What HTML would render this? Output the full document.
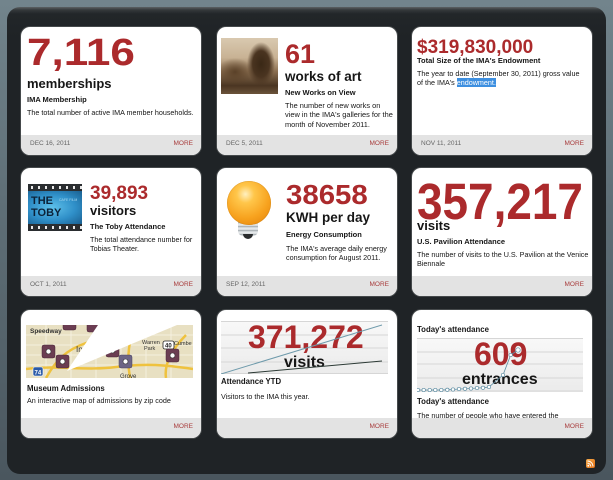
<!DOCTYPE html>
<html><head><meta charset="utf-8">
<style>
*{margin:0;padding:0;box-sizing:border-box}
html,body{width:613px;height:480px;overflow:hidden}
body{background:linear-gradient(to bottom,#72848c 0,#5f6f77 200px,#4a565e 480px);font-family:"Liberation Sans",Arial,sans-serif;position:relative}
.panel{position:absolute;left:7px;top:7px;width:599px;height:467px;border-radius:13px;background:linear-gradient(to bottom,#5c6163 0,#34383a 3px,#222629 7px,#1f2326 30px,#1f2326 100%);}
.card{position:absolute;width:180px;height:128px;background:#fff;border-radius:9px;overflow:hidden;box-shadow:0 0 0 1px #45494b;}
.ft{position:absolute;left:0;right:0;bottom:0;height:20px;background:#e3e3e3;z-index:5}
.dt{position:absolute;left:9px;top:6px;font-size:6.5px;color:#666;line-height:1;white-space:nowrap}
.mo{position:absolute;right:8px;top:6px;font-size:6.5px;color:#a83c3c;line-height:1}
.t{position:absolute;line-height:1;white-space:nowrap;color:#161616}
.n{font-weight:bold;color:#ab2a2c}
.u{font-weight:bold}
.h{font-weight:bold;font-size:7.5px}
.h2{font-weight:bold;font-size:7.8px}
.d{font-size:7.2px;line-height:9.3px}
.sel{background:#3d8fe0;color:#fff}
</style></head><body>
<div class="panel"></div>

<!-- Card 1 -->
<div class="card" style="left:21px;top:27px">
  <div class="t n" style="left:6px;top:7px;font-size:38px;transform:scaleX(1.16);transform-origin:0 0">7,116</div>
  <div class="t u" style="left:6px;top:50px;font-size:13px">memberships</div>
  <div class="t h" style="left:6px;top:69px">IMA Membership</div>
  <div class="t d" style="left:6px;top:81px">The total number of active IMA member households.</div>
  <div class="ft"><span class="dt">DEC 16, 2011</span><span class="mo">MORE</span></div>
</div>

<!-- Card 2 -->
<div class="card" style="left:217px;top:27px">
  <div style="position:absolute;left:4px;top:11px;width:57px;height:56px;background:
    radial-gradient(ellipse 14px 22px at 40px 26px,#3a2816 0,#4a3420 60%,rgba(74,52,32,0) 100%),
    radial-gradient(ellipse 18px 14px at 14px 34px,#5a4128 0,rgba(90,65,40,0) 100%),
    linear-gradient(to bottom,#d9c9b0 0,#c8b294 35%,#8a6e50 60%,#4a3522 85%,#6b533a 100%)"></div>
  <div class="t n" style="left:68px;top:13.5px;font-size:27px">61</div>
  <div class="t u" style="left:68px;top:43px;font-size:13.5px">works of art</div>
  <div class="t h" style="left:68px;top:61.5px">New Works on View</div>
  <div class="t d" style="left:68px;top:74px;font-size:7.4px">The number of new works on<br>view in the IMA's galleries for the<br>month of November 2011.</div>
  <div class="ft"><span class="dt">DEC 5, 2011</span><span class="mo">MORE</span></div>
</div>

<!-- Card 3 -->
<div class="card" style="left:412px;top:27px">
  <div class="t n" style="left:5px;top:10.5px;font-size:19px">$319,830,000</div>
  <div class="t h" style="left:5px;top:30px">Total Size of the IMA's Endowment</div>
  <div class="t d" style="left:5px;top:42px">The year to date (September 30, 2011) gross value<br>of the IMA's <span class="sel">endowment.</span></div>
  <div class="ft"><span class="dt">NOV 11, 2011</span><span class="mo">MORE</span></div>
</div>

<!-- Card 4 -->
<div class="card" style="left:21px;top:168px">
  <div style="position:absolute;left:7px;top:16px;width:54px;height:47px;background:#2a2d30">
    <div style="position:absolute;left:0;top:2px;width:54px;height:3px;background:repeating-linear-gradient(to right,#2a2d30 0,#2a2d30 3px,#e8e8e8 3px,#e8e8e8 5px,#2a2d30 5px,#2a2d30 7px)"></div>
    <div style="position:absolute;left:0;top:42px;width:54px;height:3px;background:repeating-linear-gradient(to right,#2a2d30 0,#2a2d30 3px,#e8e8e8 3px,#e8e8e8 5px,#2a2d30 5px,#2a2d30 7px)"></div>
    <div style="position:absolute;left:0;top:7px;width:54px;height:33px;background:radial-gradient(ellipse at 45% 50%,#5ec0ea 0,#2f8fc8 55%,#1a5f90 100%)">
      <div class="t" style="left:3px;top:5px;font-size:11px;font-weight:bold;color:#0c2238">THE</div>
      <div class="t" style="left:3px;top:17px;font-size:11px;font-weight:bold;color:#0c2238">TOBY</div>
      <div class="t" style="left:31px;top:8px;font-size:3.5px;color:#a8d8f0">CAFE FILM</div>
    </div>
  </div>
  <div class="t n" style="left:69px;top:15.5px;font-size:19px">39,893</div>
  <div class="t u" style="left:69px;top:36px;font-size:13px">visitors</div>
  <div class="t h" style="left:69px;top:55px">The Toby Attendance</div>
  <div class="t d" style="left:69px;top:67px">The total attendance number for<br>Tobias Theater.</div>
  <div class="ft"><span class="dt">OCT 1, 2011</span><span class="mo">MORE</span></div>
</div>

<!-- Card 5 -->
<div class="card" style="left:217px;top:168px">
  <div style="position:absolute;left:21px;top:51px;width:20px;height:17px;border-radius:2px 2px 5px 5px;background:repeating-linear-gradient(to bottom,#c9ced2 0,#eef0f2 2px,#9aa2a8 4px);"></div>
  <div style="position:absolute;left:26px;top:66px;width:10px;height:5px;border-radius:0 0 5px 5px;background:#2a2c2e"></div>
  <div style="position:absolute;left:10px;top:13px;width:44px;height:44px;border-radius:50%;background:radial-gradient(circle at 42% 30%,#fff0c0 0,#ffc64a 22%,#f7a21e 60%,#e07f08 100%);box-shadow:inset 0 0 1px #b06a00"></div>
  <div class="t n" style="left:69px;top:13.4px;font-size:28px;transform:scaleX(1.05);transform-origin:0 0">38658</div>
  <div class="t u" style="left:69px;top:43px;font-size:13.5px">KWH per day</div>
  <div class="t h" style="left:69px;top:63px">Energy Consumption</div>
  <div class="t d" style="left:69px;top:76px">The IMA's average daily energy<br>consumption for August 2011.</div>
  <div class="ft"><span class="dt">SEP 12, 2011</span><span class="mo">MORE</span></div>
</div>

<!-- Card 6 -->
<div class="card" style="left:412px;top:168px">
  <div class="t n" style="left:5px;top:8px;font-size:51px;transform:scaleX(0.9);transform-origin:0 0">357,217</div>
  <div class="t u" style="left:5px;top:51px;font-size:13px;z-index:2">visits</div>
  <div class="t h" style="left:5px;top:69.5px">U.S. Pavilion Attendance</div>
  <div class="t d" style="left:5px;top:81.5px">The number of visits to the U.S. Pavilion at the Venice<br>Biennale</div>
  <div class="ft"><span class="mo">MORE</span></div>
</div>

<!-- Card 7 -->
<div class="card" style="left:21px;top:310px">
  <svg style="position:absolute;left:5px;top:15px" width="167" height="53" viewBox="0 0 167 53">
    <rect width="167" height="53" fill="#e8e0c2"/>
    <g stroke="#f7f3e6" stroke-width="0.8">
      <path d="M0 10H167M0 20H167M0 30H167M0 40H167M20 0V53M45 0V53M70 0V53M95 0V53M120 0V53M145 0V53"/>
    </g>
    <g stroke="#efc23e" stroke-width="2.5" fill="none">
      <path d="M0 44 C30 40 60 46 90 42 S140 40 167 44"/>
      <path d="M108 0 C104 15 100 30 104 53"/>
      <path d="M20 53 C30 35 40 25 60 18 S100 12 130 4"/>
      <path d="M140 53 C138 40 145 25 160 10"/>
    </g>
    <text x="4" y="8" font-family="Liberation Sans, sans-serif" font-size="6.5" font-weight="bold" fill="#333">Speedway</text>
    <text x="50" y="27" font-family="Liberation Sans, sans-serif" font-size="8" fill="#333">Ind</text>
    <text x="116" y="19" font-family="Liberation Sans, sans-serif" font-size="5.5" fill="#333">Warren</text>
    <text x="118" y="25" font-family="Liberation Sans, sans-serif" font-size="5.5" fill="#333">Park</text>
    <text x="148" y="20" font-family="Liberation Sans, sans-serif" font-size="5.5" fill="#333">Cumbe</text>
    <text x="94" y="53" font-family="Liberation Sans, sans-serif" font-size="6" fill="#333">Grove</text>
    <rect x="7" y="42" width="10" height="9" rx="2" fill="#2a5aa8" stroke="#fff" stroke-width="0.6"/>
    <text x="8.5" y="49.5" font-family="Liberation Sans, sans-serif" font-size="6" font-weight="bold" fill="#fff">74</text>
    <rect x="137" y="16" width="11" height="8" rx="2" fill="#fff" stroke="#222" stroke-width="0.8"/>
    <text x="139" y="22.5" font-family="Liberation Sans, sans-serif" font-size="6" font-weight="bold" fill="#222">40</text>
    <g fill="#6b3d52" stroke="#4a2636" stroke-width="0.5">
      <rect x="16" y="20" width="13" height="13" rx="2"/>
      <rect x="30" y="30" width="13" height="13" rx="2"/>
      <rect x="80" y="19" width="13" height="13" rx="2"/>
      <rect x="140" y="24" width="13" height="13" rx="2"/>
      <rect x="116" y="-3" width="13" height="10" rx="2"/>
      <rect x="61" y="-3" width="13" height="10" rx="2"/>
      <rect x="37" y="-3" width="13" height="8" rx="2"/>
    </g>
    <rect x="93" y="30" width="13" height="13" rx="2" fill="#6d6585" stroke="#4a4460" stroke-width="0.5"/>
    <g fill="#fff" stroke="#333" stroke-width="0.6">
      <circle cx="22.5" cy="26.5" r="2.5"/><circle cx="36.5" cy="36.5" r="2.5"/>
      <circle cx="86.5" cy="25.5" r="2.5"/><circle cx="146.5" cy="30.5" r="2.5"/>
      <circle cx="99.5" cy="36.5" r="2.5"/>
    </g>
    <polygon points="72,0 151,0 41,46" fill="#fff"/>
  </svg>
  <div class="t h2" style="left:6px;top:75px">Museum Admissions</div>
  <div class="t d" style="left:6px;top:86.2px">An interactive map of admissions by zip code</div>
  <div class="ft"><span class="mo">MORE</span></div>
</div>

<!-- Card 8 -->
<div class="card" style="left:217px;top:310px">
  <svg style="position:absolute;left:4px;top:11px" width="167" height="53" viewBox="0 0 167 53">
    <defs><linearGradient id="g1" x1="0" y1="0" x2="0" y2="1"><stop offset="0" stop-color="#f8f8f8"/><stop offset="1" stop-color="#ebebeb"/></linearGradient></defs>
    <rect width="167" height="53" fill="url(#g1)"/>
    <g stroke="#d6d6d6" stroke-width="1"><path d="M0 0.5H167M0 14H167M0 27H167M0 41H167M0 52.5H167"/></g>
  </svg>
  <div class="t n" style="left:31px;top:10.8px;font-size:32px">371,272</div>
  <div class="t u" style="left:67px;top:44.8px;font-size:16px">visits</div>
  <svg style="position:absolute;left:4px;top:11px" width="167" height="53" viewBox="0 0 167 53">
    <path d="M0 53 L161 4" stroke="#6e9aab" stroke-width="1" fill="none"/>
    <path d="M27 52 L161 40" stroke="#2c3a35" stroke-width="1" fill="none"/>
  </svg>
  <div class="t h2" style="left:4px;top:68.4px">Attendance YTD</div>
  <div class="t d" style="left:4px;top:82px">Visitors to the IMA this year.</div>
  <div class="ft"><span class="mo">MORE</span></div>
</div>

<!-- Card 9 -->
<div class="card" style="left:412px;top:310px">
  <div class="t h2" style="left:5px;top:15.7px">Today's attendance</div>
  <svg style="position:absolute;left:5px;top:28px" width="166" height="54" viewBox="0 0 166 54">
    <defs><linearGradient id="g2" x1="0" y1="0" x2="0" y2="1"><stop offset="0" stop-color="#f8f8f8"/><stop offset="1" stop-color="#ebebeb"/></linearGradient></defs>
    <rect width="166" height="54" fill="url(#g2)"/>
    <g stroke="#d6d6d6" stroke-width="1"><path d="M0 0.5H166M0 14H166M0 26H166M0 40H166M0 53H166"/></g>
  </svg>
  <div class="t n" style="left:62px;top:27.8px;font-size:32px">609</div>
  <div class="t u" style="left:50px;top:61.5px;font-size:16px">entrances</div>
  <svg style="position:absolute;left:5px;top:28px" width="166" height="54" viewBox="0 0 166 54">
    <polyline points="1,52 6.7,52 12.7,52 18.3,52 24.3,52 30.3,51.8 36,51.5 42,51 48,50.8 54,50.5 60,50 66,49.8 72,49 86,37 93.7,17 101,12" stroke="#5f8ea3" stroke-width="0.8" fill="none"/>
    <g fill="#fff" stroke="#5f8ea3" stroke-width="0.7">
      <circle cx="1" cy="52" r="1.7"/><circle cx="6.7" cy="52" r="1.7"/><circle cx="12.7" cy="52" r="1.7"/>
      <circle cx="18.3" cy="52" r="1.7"/><circle cx="24.3" cy="52" r="1.7"/><circle cx="30.3" cy="51.8" r="1.7"/>
      <circle cx="36" cy="51.5" r="1.7"/><circle cx="42" cy="51" r="1.7"/><circle cx="48" cy="50.8" r="1.7"/>
      <circle cx="54" cy="50.5" r="1.7"/><circle cx="60" cy="50" r="1.7"/><circle cx="66" cy="49.8" r="1.7"/>
      <circle cx="72" cy="49" r="1.7"/><circle cx="86" cy="37" r="1.7"/><circle cx="93.7" cy="17" r="1.7"/>
      <circle cx="101" cy="12" r="2.2"/>
    </g>
  </svg>
  <div class="t h2" style="left:5px;top:88.4px">Today's attendance</div>
  <div class="t d" style="left:5px;top:101px">The number of people who have entered the</div>
  <div class="ft"><span class="mo">MORE</span></div>
</div>

<div style="position:absolute;left:586px;top:459px;width:9px;height:9px;border-radius:2px;background:linear-gradient(135deg,#f8b050,#e06a10)">
  <svg width="9" height="9" viewBox="0 0 9 9" style="position:absolute;left:0;top:0">
    <circle cx="2.3" cy="6.7" r="0.9" fill="#fff"/>
    <path d="M1.5 4.2 A3.3 3.3 0 0 1 4.8 7.5" stroke="#fff" stroke-width="0.9" fill="none"/>
    <path d="M1.5 2 A5.5 5.5 0 0 1 7 7.5" stroke="#fff" stroke-width="0.9" fill="none"/>
  </svg>
</div>
</body></html>
